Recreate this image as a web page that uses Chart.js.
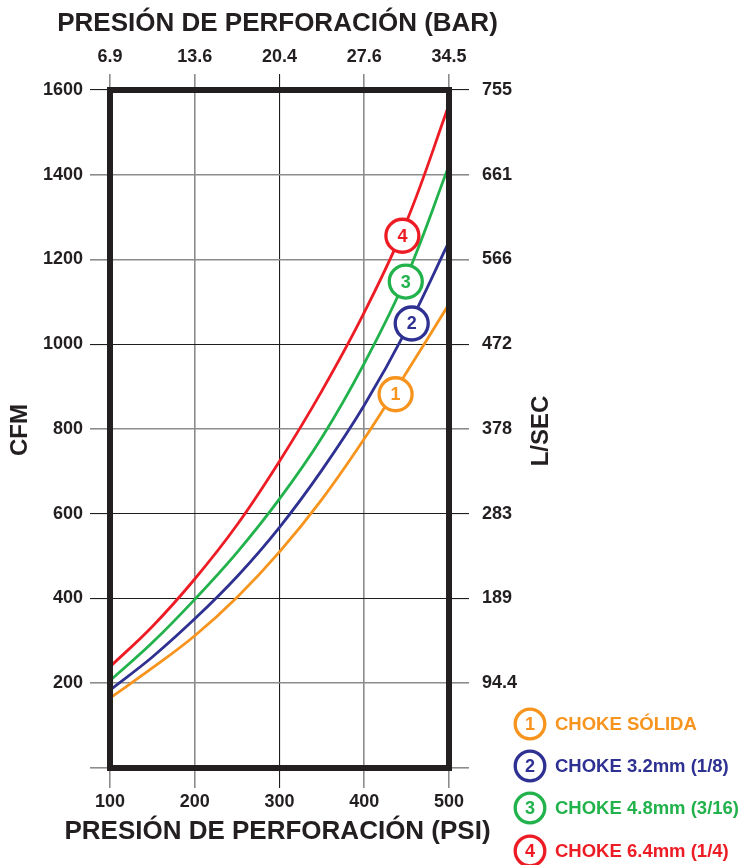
<!DOCTYPE html>
<html>
<head>
<meta charset="utf-8">
<script src="https://cdn.jsdelivr.net/npm/chart.js@4.4.0/dist/chart.umd.min.js"></script>
<style>
html,body{margin:0;padding:0;background:#fff;}
#wrap{width:746px;height:865px;position:relative;}
</style>
</head>
<body>
<div id="wrap"><canvas id="c" width="746" height="865"></canvas></div>
<script>
// ---- data ----
const PSI = [100, 150, 200, 250, 300, 350, 400, 450, 500];
const CHOKE_SOLIDA = [165, 236, 312, 403, 510, 634, 777, 934, 1095];
const CHOKE_3_2 = [184, 262, 352, 452, 568, 703, 856, 1035, 1242];
const CHOKE_4_8 = [206, 296, 398, 509, 635, 780, 955, 1160, 1422];
const CHOKE_6_4 = [239, 334, 446, 574, 724, 890, 1075, 1290, 1565];
const SERIES_NAMES = ['CHOKE SÓLIDA', 'CHOKE 3.2mm (1/8)', 'CHOKE 4.8mm (3/16)', 'CHOKE 6.4mm (1/4)'];
const SERIES_NUMBERS = ['1', '2', '3', '4'];
const BAR_LABELS = ['6.9', '13.6', '20.4', '27.6', '34.5'];
const LSEC_LABELS = ['', '94.4', '189', '283', '378', '472', '566', '661', '755'];
// curve marker anchors, in data units (psi, cfm)
const MARKER_PSI = [437, 456, 449, 445];
const MARKER_CFM = [882, 1049, 1148, 1256];

// ---- styles ----
const COLORS = ['#F7941D', '#2E3192', '#22B24C', '#ED1C24'];
const INK = '#231F20';
const FONT = '"Liberation Sans", Arial, Helvetica, sans-serif';
const DARK_X = new Set([300]);
const DARK_Y = new Set([1600, 1000, 600, 400]);

function gridColor(set) {
  return (c) => (c.tick && set.has(c.tick.value)) ? '#1e1e1e' : '#8c8c8c';
}
function gridWidth(set) {
  return (c) => (c.tick && set.has(c.tick.value)) ? 1.1 : 1.6;
}
const tickFont = { family: FONT, size: 18, weight: 'bold' };

const seriesValues = [CHOKE_SOLIDA, CHOKE_3_2, CHOKE_4_8, CHOKE_6_4];
const datasets = seriesValues.map((vals, i) => ({
  label: SERIES_NAMES[i],
  data: PSI.map((p, k) => ({ x: p, y: vals[k] })),
  borderColor: COLORS[i],
  borderWidth: 2.8,
  pointRadius: 0,
  fill: false,
  tension: 0.4,
  xAxisID: 'x',
  yAxisID: 'y'
}));

function drawBadge(ctx, cx, cy, r, color, txt, lw) {
  ctx.save();
  ctx.beginPath();
  ctx.arc(cx, cy, r, 0, Math.PI * 2);
  ctx.fillStyle = '#fff';
  ctx.fill();
  ctx.lineWidth = lw;
  ctx.strokeStyle = color;
  ctx.stroke();
  ctx.fillStyle = color;
  ctx.font = 'bold 18px ' + FONT;
  ctx.textAlign = 'center';
  ctx.textBaseline = 'middle';
  ctx.fillText(txt, cx, cy + 1);
  ctx.restore();
}

const framePlugin = {
  id: 'frame',
  afterDatasetsDraw(chart) {
    const { ctx, chartArea: a, scales } = chart;
    ctx.save();
    ctx.lineWidth = 6;
    ctx.strokeStyle = INK;
    ctx.strokeRect(a.left, a.top, a.right - a.left, a.bottom - a.top);
    ctx.restore();
    for (let i = 0; i < MARKER_PSI.length; i++) {
      const px = scales.x.getPixelForValue(MARKER_PSI[i]);
      const py = scales.y.getPixelForValue(MARKER_CFM[i]);
      drawBadge(ctx, px, py, 16.5, COLORS[i], SERIES_NUMBERS[i], 3.3);
    }
  },
  afterDraw(chart) {
    const { ctx, chartArea: a } = chart;
    const midX = (a.left + a.right) / 2;
    const midY = (a.top + a.bottom) / 2;
    ctx.save();
    ctx.fillStyle = INK;
    ctx.textAlign = 'center';
    ctx.textBaseline = 'middle';
    ctx.font = 'bold 26px ' + FONT;
    ctx.fillText('PRESIÓN DE PERFORACIÓN (BAR)', midX - 2, 24);
    ctx.fillText('PRESIÓN DE PERFORACIÓN (PSI)', midX - 2, 832);
    ctx.font = 'bold 24px ' + FONT;
    ctx.save();
    ctx.translate(20, midY + 1);
    ctx.rotate(-Math.PI / 2);
    ctx.fillText('CFM', 0, 0);
    ctx.restore();
    ctx.save();
    ctx.translate(541, midY + 2);
    ctx.rotate(-Math.PI / 2);
    ctx.fillText('L/SEC', 0, 0);
    ctx.restore();
    ctx.restore();
    // legend
    const rows = [724, 766, 808, 851];
    for (let i = 0; i < SERIES_NAMES.length; i++) {
      drawBadge(ctx, 530, rows[i], 14.8, COLORS[i], SERIES_NUMBERS[i], 3.3);
      ctx.save();
      ctx.fillStyle = COLORS[i];
      ctx.font = 'bold 18.5px ' + FONT;
      ctx.textAlign = 'left';
      ctx.textBaseline = 'middle';
      ctx.fillText(SERIES_NAMES[i], 555, rows[i] + 1);
      ctx.restore();
    }
  }
};

new Chart(document.getElementById('c'), {
  type: 'line',
  data: { datasets },
  plugins: [framePlugin],
  options: {
    responsive: false,
    animation: false,
    layout: { padding: 0 },
    plugins: { legend: { display: false }, tooltip: { enabled: false }, title: { display: false } },
    scales: {
      x: {
        type: 'linear', position: 'bottom', min: 100, max: 500,
        ticks: { stepSize: 100, font: tickFont, color: INK, padding: 3, maxRotation: 0 },
        grid: { color: gridColor(DARK_X), lineWidth: gridWidth(DARK_X), tickLength: 20 },
        border: { display: false },
        afterFit: (s) => { s.height = 97; }
      },
      x2: {
        type: 'linear', position: 'top', min: 100, max: 500,
        ticks: { stepSize: 100, font: tickFont, color: INK, padding: 6, maxRotation: 0,
                 callback: (v) => BAR_LABELS[Math.round((v - 100) / 100)] },
        grid: { drawOnChartArea: false, color: gridColor(DARK_X), lineWidth: gridWidth(DARK_X), tickLength: 16 },
        border: { display: false },
        afterFit: (s) => { s.height = 90; }
      },
      y: {
        type: 'linear', position: 'left', min: 0, max: 1600,
        ticks: { stepSize: 200, font: tickFont, color: INK, padding: 7,
                 callback: (v) => v === 0 ? '' : String(v) },
        grid: { color: gridColor(DARK_Y), lineWidth: gridWidth(DARK_Y), tickLength: 20 },
        border: { display: false },
        afterFit: (s) => { s.width = 110; }
      },
      y2: {
        type: 'linear', position: 'right', min: 0, max: 1600,
        ticks: { stepSize: 200, font: tickFont, color: INK, padding: 13,
                 callback: (v) => LSEC_LABELS[Math.round(v / 200)] },
        grid: { drawOnChartArea: false, color: gridColor(DARK_Y), lineWidth: gridWidth(DARK_Y), tickLength: 20 },
        border: { display: false },
        afterFit: (s) => { s.width = 297; }
      }
    }
  }
});
</script>
</body>
</html>
